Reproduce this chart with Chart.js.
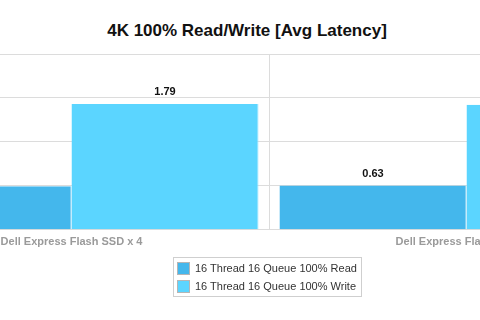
<!DOCTYPE html>
<html>
<head>
<meta charset="utf-8">
<script src="https://cdn.jsdelivr.net/npm/chart.js@4/dist/chart.umd.min.js"></script>
<style>
  html, body { margin: 0; padding: 0; background: #fff; }
  #wrap { position: relative; width: 480px; height: 320px; overflow: hidden; font-family: "Liberation Sans", Arial, Helvetica, sans-serif; }
  #title { position: absolute; left: 0; top: 21px; width: 494px; text-align: center; font-weight: bold; font-size: 17px; color: #111; }
  #box { position: absolute; left: -126px; top: 0; width: 790px; height: 320px; }
  #legend { position: absolute; left: 173px; top: 257px; width: 187px; border: 1px solid #cfcfcf; padding: 1px 0 1px 0; }
  #legend .item { height: 18px; display: flex; align-items: center; font-size: 11px; color: #333; }
  #legend .sw { width: 13px; height: 13px; margin: 0 5px 0 3px; border: 1px solid #b5b5b5; box-sizing: border-box; }
</style>
</head>
<body>
<div id="wrap">
  <div id="title">4K 100% Read/Write [Avg Latency]</div>
  <div id="box"><canvas id="chart"></canvas></div>
  <div id="legend"></div>
</div>
<script>
  // Data
  const categories = ['Dell Express Flash SSD x 4', 'Dell Express Flash SSD x 2'];
  const seriesNames = ['16 Thread 16 Queue 100% Read', '16 Thread 16 Queue 100% Write'];
  const readLatency = [0.62, 0.63];
  const writeLatency = [1.79, 1.78];
  const seriesColors = ['#44b7ec', '#5bd5ff'];
  const yMax = 2.5;
  const yStep = 0.625;

  // Value labels above each bar
  const valueLabels = {
    id: 'valueLabels',
    afterDatasetsDraw(chart) {
      const ctx = chart.ctx;
      ctx.save();
      ctx.font = 'bold 11px "Liberation Sans", Arial, sans-serif';
      ctx.fillStyle = '#111';
      ctx.textAlign = 'center';
      ctx.textBaseline = 'bottom';
      chart.data.datasets.forEach((ds, i) => {
        chart.getDatasetMeta(i).data.forEach((bar, j) => {
          ctx.fillText(ds.data[j].toFixed(2), bar.x, bar.y - 6);
        });
      });
      ctx.restore();
    }
  };

  const chart = new Chart(document.getElementById('chart'), {
    type: 'bar',
    data: {
      labels: categories,
      datasets: [
        { label: seriesNames[0], data: readLatency, backgroundColor: seriesColors[0], borderColor: '#8fd3f3', borderWidth: { right: 1 } },
        { label: seriesNames[1], data: writeLatency, backgroundColor: seriesColors[1], borderColor: '#9ee6ff', borderWidth: { right: 1 } }
      ]
    },
    options: {
      responsive: true,
      maintainAspectRatio: false,
      animation: false,
      layout: { padding: { top: 54, bottom: 65, left: 0, right: 0 } },
      datasets: { bar: { categoryPercentage: 0.947, barPercentage: 1.0 } },
      plugins: {
        legend: { display: false },
        title: { display: false },
        tooltip: { enabled: false }
      },
      scales: {
        x: {
          grid: { color: '#dcdcdc', drawTicks: false, offset: true },
          border: { display: false },
          ticks: { color: '#9a9a9a', padding: 6, font: { family: '"Liberation Sans", Arial, sans-serif', size: 11, weight: 'bold' } }
        },
        y: {
          min: 0,
          max: yMax,
          ticks: { display: false, stepSize: yStep },
          grid: { color: '#dcdcdc', drawTicks: false },
          border: { display: false }
        }
      }
    },
    plugins: [valueLabels]
  });

  // HTML legend built from the datasets
  const legend = document.getElementById('legend');
  chart.data.datasets.forEach(ds => {
    const item = document.createElement('div');
    item.className = 'item';
    item.innerHTML = `<span class="sw" style="background:${ds.backgroundColor}"></span>${ds.label}`;
    legend.appendChild(item);
  });
</script>
</body>
</html>
